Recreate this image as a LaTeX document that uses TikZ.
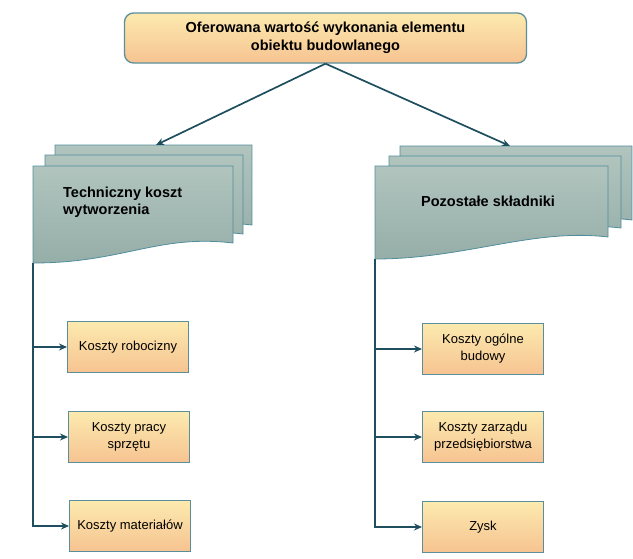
\documentclass[tikz,border=0pt]{standalone}
\usepackage{fontspec}
\setmainfont{Liberation Sans}
\usepackage{xcolor}
\usepackage{tikz}
\usetikzlibrary{arrows.meta}

\definecolor{liniakol}{HTML}{1F4E5E}
\definecolor{ramkakol}{HTML}{5B8E9C}
\definecolor{zoltygora}{HTML}{FCEAAE}
\definecolor{pomaranczdol}{HTML}{F6C391}
\definecolor{arkuszgora}{HTML}{B1C4BE}
\definecolor{arkuszdol}{HTML}{96AEA8}
\definecolor{arkuszramka}{HTML}{4F8D9C}

\newcommand{\arkusz}[5]{%
	\draw[arkuszrys] (#1,#3) -- (#2,#3) -- (#2,#5) .. controls +(-75,-9) and +(90,0) .. (#1,#4) -- cycle;}

\begin{document}
\begin{tikzpicture}[x=1pt,y=-1pt,
	naglowek/.style={draw=ramkakol,line width=1.3pt,rounded corners=9pt,top color=zoltygora,bottom color=pomaranczdol,
		minimum width=402pt,minimum height=50pt,align=center,font=\fontsize{14.5}{18}\selectfont\bfseries},
	koszt/.style={draw=ramkakol,line width=1pt,top color=zoltygora,bottom color=pomaranczdol,
		minimum width=121pt,minimum height=51pt,inner sep=2pt,align=center,font=\fontsize{13}{17}\selectfont},
	arkuszrys/.style={draw=arkuszramka,line width=0.8pt,top color=arkuszgora,bottom color=arkuszdol},
	opis/.style={font=\fontsize{14.5}{17}\selectfont\bfseries,inner sep=0pt},
	strzalka/.style={draw=liniakol,line width=1.7pt,-{Stealth[length=8pt,width=7pt]}}
	]
	\useasboundingbox (0,0) rectangle (633,558);

	\node[naglowek] (oferta) at (325.5,38) {Oferowana wartość wykonania elementu\\obiektu budowlanego};

	\arkusz{55}{252}{145}{245}{225}
	\arkusz{45}{243}{155}{254}{234}
	\arkusz{33}{233}{166}{263}{243}
	\arkusz{400}{632}{146}{240}{220}
	\arkusz{389}{621}{156}{249}{228}
	\arkusz{375}{608}{166}{259}{237}

	\coordinate (tk-gora) at (156,145);
	\coordinate (tk-dol) at (33,263);
	\coordinate (ps-gora) at (510,146);
	\coordinate (ps-dol) at (375,259);

	\node[opis,anchor=west,align=left] (tk) at (63,202) {Techniczny koszt\\wytworzenia};
	\node[opis] (ps) at (488,201) {Pozostałe składniki};

	\node[koszt] (robocizna) at (128,347) {Koszty robocizny};
	\node[koszt] (sprzet) at (129,437) {Koszty pracy\\sprzętu};
	\node[koszt] (materialy) at (130,526) {Koszty materiałów};

	\node[koszt] (ogolne) at (483,349) {Koszty ogólne\\budowy};
	\node[koszt] (zarzad) at (483,437) {Koszty zarządu\\przedsiębiorstwa};
	\node[koszt] (zysk) at (483,527) {Zysk};

	\draw[strzalka] (oferta.south) -- (tk-gora);
	\draw[strzalka] (oferta.south) -- (ps-gora);

	\draw[strzalka] (tk-dol) |- (materialy.west);
	\draw[strzalka] (tk-dol |- robocizna.west) -- (robocizna.west);
	\draw[strzalka] (tk-dol |- sprzet.west) -- (sprzet.west);

	\draw[strzalka] (ps-dol) |- (zysk.west);
	\draw[strzalka] (ps-dol |- ogolne.west) -- (ogolne.west);
	\draw[strzalka] (ps-dol |- zarzad.west) -- (zarzad.west);
\end{tikzpicture}
\end{document}
